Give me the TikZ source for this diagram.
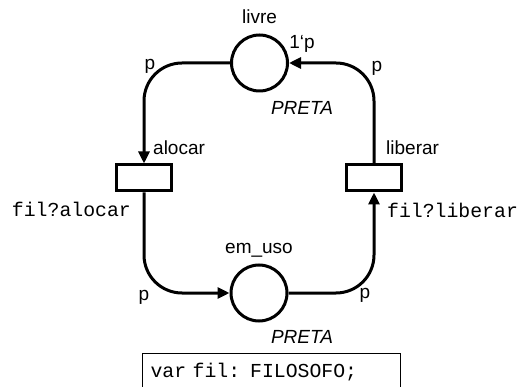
\documentclass[tikz,border=0pt]{standalone}
\usepackage{fontspec}
\setmainfont{Liberation Sans}
\setmonofont{Liberation Mono}
\usetikzlibrary{arrows.meta, positioning}

\begin{document}
\begin{tikzpicture}[
    x=1pt, y=-1pt,
    place/.style={
        circle, draw, line width=3pt, minimum size=56pt, inner sep=0pt
    },
    trans/.style={
        rectangle, draw, line width=3pt,
        minimum width=55pt, minimum height=26pt, inner sep=0pt
    },
    arc/.style={
        line width=3pt, rounded corners=38pt,
        -{Triangle[length=12pt, width=11pt]}
    },
    lbl/.style={font=\fontsize{19}{22}\selectfont, inner sep=0pt},
    typ/.style={font=\fontsize{19}{22}\selectfont\itshape, inner sep=0pt},
    ins/.style={font=\fontsize{19.8}{22}\selectfont\ttfamily, inner sep=0pt}
]
\useasboundingbox (0,0) rectangle (519,387);

\node[place] (livre) at (259.5,63) {};
\node[place] (emuso) at (259,293) {};
\node[trans] (alocar) at (144,178) {};
\node[trans] (liberar) at (374,178) {};

\node[lbl, above=10pt of livre] (nlivre) {livre};
\node[lbl, above=6pt of emuso] (nemuso) {em\_uso};
\node[typ] (tlivre) at (302,108) {PRETA};
\node[typ] (temuso) at (302,337) {PRETA};
\node[lbl] (ilivre) at (302,44) {1`p};
\node[lbl, anchor=west] (nalocar) at (153,148) {alocar};
\node[lbl, anchor=west] (nliberar) at (386,148) {liberar};
\node[ins, anchor=east] (galocar) at (131,209) {fil?alocar};
\node[ins, anchor=west] (gliberar) at (387,210) {fil?liberar};

% declaracoes
\node[ins, draw, line width=1pt, anchor=north west, inner xsep=8pt, inner ysep=0pt,
      text height=24pt, text depth=30pt, minimum width=258pt, text width=242pt]
      (decl) at (142,353) {var fil: FILOSOFO;};

% arcos
\draw[arc] (livre.west) -| node[lbl, pos=0.5, xshift=6pt, yshift=-3pt]{p} (alocar.north);
\draw[arc] (alocar.south) |- node[lbl, pos=0.5, yshift=-4pt]{p} (emuso.west);
\draw[arc] (emuso.east) -| node[lbl, pos=0.5, xshift=-9pt, yshift=-2pt]{p} (liberar.south);
\draw[arc] (liberar.north) |- node[lbl, pos=0.5, xshift=3pt, yshift=-5pt]{p} (livre.east);

\end{tikzpicture}
\end{document}
